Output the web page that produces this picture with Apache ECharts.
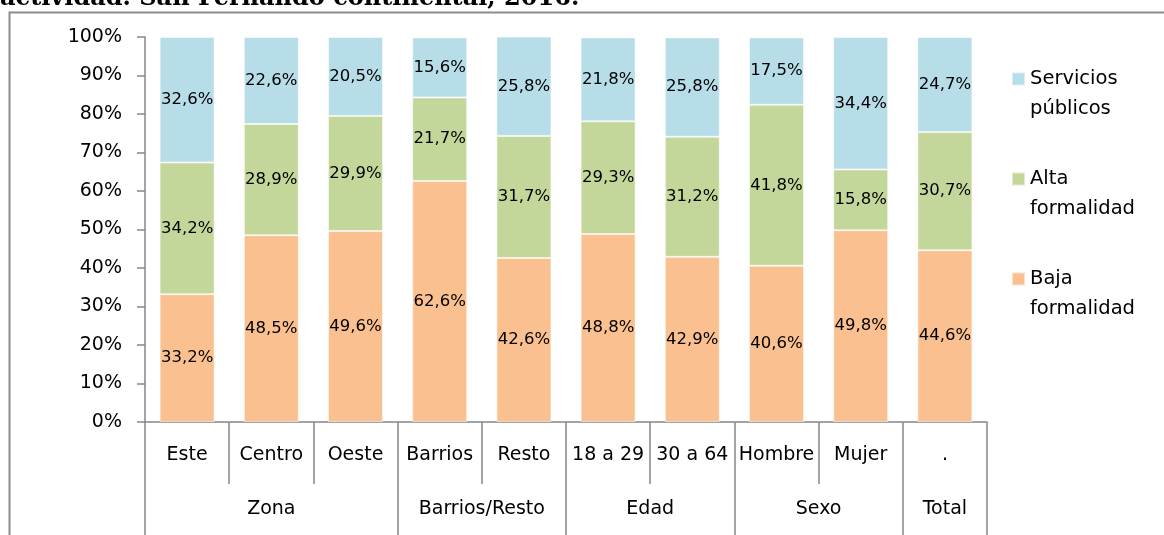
<!DOCTYPE html>
<html>
<head>
<meta charset="utf-8">
<script src="https://cdn.jsdelivr.net/npm/echarts@6/dist/echarts.min.js"></script>
<style>
  html, body { margin: 0; padding: 0; background: #fff; }
  #chart { width: 1164px; height: 535px; }
</style>
</head>
<body>
<div id="chart"></div>
<script>
// categories (first level) and groups (second level)
var categories = ["Este", "Centro", "Oeste", "Barrios", "Resto", "18 a 29", "30 a 64", "Hombre", "Mujer", "."];
var groups = ["Zona", "Barrios/Resto", "Edad", "Sexo", "Total"];
var groupSizes = [3, 2, 2, 2, 1];

// series values (%)
var bajaFormalidad = [33.2, 48.5, 49.6, 62.6, 42.6, 48.8, 42.9, 40.6, 49.8, 44.6];
var altaFormalidad = [34.2, 28.9, 29.9, 21.7, 31.7, 29.3, 31.2, 41.8, 15.8, 30.7];
var serviciosPublicos = [32.6, 22.6, 20.5, 15.6, 25.8, 21.8, 25.8, 17.5, 34.4, 24.7];

var yTicks = [0, 10, 20, 30, 40, 50, 60, 70, 80, 90, 100];

var FONT = "DejaVu Sans";

// second level axis: half-category slots so group centres and borders fall on slots
var groupSlots = [];
var groupBorders = {};
for (var k = 0; k <= categories.length * 2; k++) groupSlots.push("");
var start = 0;
groups.forEach(function (g, i) {
  groupBorders[start * 2] = true;
  groupSlots[start * 2 + groupSizes[i]] = g;
  start += groupSizes[i];
});
groupBorders[start * 2] = true;

function pct(v) {
  return v.toFixed(1).replace(".", ",") + "%";
}

function barSeries(name, data, color) {
  return {
    name: name,
    type: "bar",
    stack: "total",
    barWidth: 55,
    data: data,
    itemStyle: { color: color, borderColor: "rgba(255,255,255,0.5)", borderWidth: 1 },
    label: {
      show: true,
      position: "inside",
      color: "#000",
      fontFamily: FONT,
      fontSize: 16.5,
      formatter: function (p) { return pct(p.value); }
    }
  };
}

var chart = echarts.init(document.getElementById("chart"));

chart.setOption({
  animation: false,
  textStyle: { fontFamily: FONT },
  grid: { left: 145, right: 177, top: 37, bottom: 113, containLabel: false },
  legend: {
    orient: "vertical",
    left: 1011,
    top: 34,
    padding: 0,
    itemWidth: 13,
    itemHeight: 13,
    itemGap: 10,
    icon: "rect",
    data: ["Servicios públicos", "Alta formalidad", "Baja formalidad"],
    // blank first line keeps the icon level with the first text line
    formatter: function (name) { return " \n" + name.replace(" ", "\n"); },
    textStyle: {
      fontFamily: FONT,
      fontSize: 19.5,
      color: "#000",
      lineHeight: 30
    }
  },
  xAxis: [
    {
      type: "category",
      data: categories,
      position: "bottom",
      axisLine: { lineStyle: { color: "#868686", width: 1.5 } },
      axisTick: { show: true, interval: 0, length: 62, lineStyle: { color: "#868686", width: 1.5 } },
      axisLabel: { interval: 0, margin: 24, color: "#000", fontSize: 19, fontFamily: FONT }
    },
    {
      type: "category",
      data: groupSlots,
      position: "bottom",
      boundaryGap: false,
      axisLine: { show: false },
      axisTick: {
        show: true,
        length: 130,
        interval: function (idx) { return !!groupBorders[idx]; },
        lineStyle: { color: "#868686", width: 1.5 }
      },
      axisLabel: {
        margin: 78,
        color: "#000",
        fontSize: 19,
        fontFamily: FONT,
        interval: function (idx, val) { return val !== ""; }
      }
    }
  ],
  yAxis: {
    type: "value",
    min: yTicks[0],
    max: yTicks[yTicks.length - 1],
    interval: 10,
    splitLine: { show: false },
    axisLine: { show: true, lineStyle: { color: "#868686", width: 1.5 } },
    axisTick: { show: true, length: 8, lineStyle: { color: "#868686", width: 1.5 } },
    axisLabel: { margin: 23, color: "#000", fontSize: 19, fontFamily: FONT, formatter: "{value}%" }
  },
  series: [
    barSeries("Baja formalidad", bajaFormalidad, "#fac090"),
    barSeries("Alta formalidad", altaFormalidad, "#c4d79b"),
    barSeries("Servicios públicos", serviciosPublicos, "#b7dde8")
  ],
  graphic: [
    {
      type: "rect",
      left: 7,
      top: 10,
      shape: { x: 0, y: 0, width: 1300, height: 700 },
      style: { fill: "none", stroke: "#8c8c8c", lineWidth: 2 },
      silent: true
    },
    {
      type: "text",
      left: 0,
      top: -13,
      style: {
        text: "actividad. San Fernando continental, 2016.",
        font: "bold 24px 'DejaVu Serif'",
        fill: "#000"
      },
      silent: true
    }
  ]
});
</script>
</body>
</html>
